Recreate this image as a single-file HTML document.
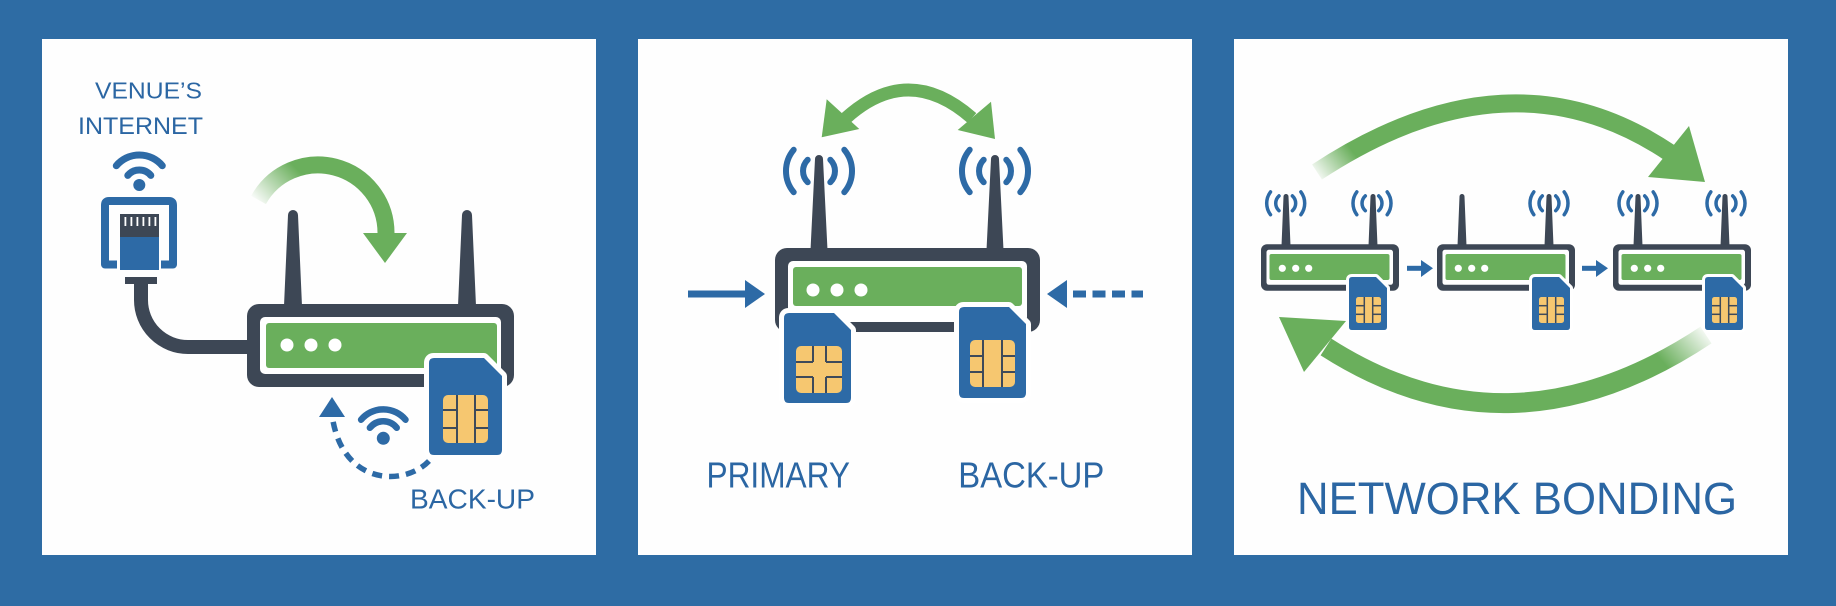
<!DOCTYPE html>
<html>
<head>
<meta charset="utf-8">
<style>
  html,body{margin:0;padding:0;background:#2e6ca4;}
  svg{display:block;}
  text{font-family:"Liberation Sans",Arial,sans-serif;fill:#2b66a3;}
</style>
</head>
<body>
<svg width="1836" height="606" viewBox="0 0 1836 606" xmlns="http://www.w3.org/2000/svg">
  <defs>
    <linearGradient id="g1" gradientUnits="userSpaceOnUse" x1="258" y1="205" x2="296" y2="168">
      <stop offset="0" stop-color="#6aaf5c" stop-opacity="0"/>
      <stop offset="1" stop-color="#6aaf5c" stop-opacity="1"/>
    </linearGradient>
    <linearGradient id="g3t" gradientUnits="userSpaceOnUse" x1="1314" y1="176" x2="1350" y2="148">
      <stop offset="0" stop-color="#6aaf5c" stop-opacity="0"/>
      <stop offset="1" stop-color="#6aaf5c" stop-opacity="1"/>
    </linearGradient>
    <linearGradient id="g3b" gradientUnits="userSpaceOnUse" x1="1710" y1="332" x2="1668" y2="368">
      <stop offset="0" stop-color="#6aaf5c" stop-opacity="0"/>
      <stop offset="1" stop-color="#6aaf5c" stop-opacity="1"/>
    </linearGradient>
    <!-- small waves for panel 3 -->
    <g id="w3" fill="none" stroke="#2d6aa6" stroke-width="3.5" stroke-linecap="round">
      <path d="M-6.7 195.9 A10 10 0 0 0 -6.7 210.7"/>
      <path d="M6.7 195.9 A10 10 0 0 1 6.7 210.7"/>
      <path d="M-15.2 191.9 A19 19 0 0 0 -15.2 214.7"/>
      <path d="M15.2 191.9 A19 19 0 0 1 15.2 214.7"/>
    </g>
    <!-- small router for panel 3 -->
    <g id="r3">
      <path d="M20.5 246 L22.5 196.5 A2.5 2.5 0 0 1 27.5 196.5 L29.5 246 Z" fill="#3d4755"/>
      <path d="M107.5 246 L109.5 196.5 A2.5 2.5 0 0 1 114.5 196.5 L116.5 246 Z" fill="#3d4755"/>
      <rect x="0" y="244.3" width="138" height="46.4" rx="6" fill="#3d4755"/>
      <rect x="5.5" y="249.8" width="126.5" height="35" rx="2.5" fill="#ffffff"/>
      <rect x="8.5" y="254" width="120" height="26" rx="2" fill="#6aaf5c"/>
      <circle cx="21.3" cy="268.3" r="3.6" fill="#fff"/>
      <circle cx="34.7" cy="268.3" r="3.6" fill="#fff"/>
      <circle cx="47.7" cy="268.3" r="3.6" fill="#fff"/>
    </g>
    <!-- small SIM for panel 3 -->
    <g id="s3">
      <path d="M0 280 Q0 277 3 277 H27 L38 288 V327 Q38 330 35 330 H3 Q0 330 0 327 Z" fill="#2d6aa6" stroke="#ffffff" stroke-width="6" paint-order="stroke" stroke-linejoin="round"/>
      <rect x="7" y="297" width="25" height="26" rx="2.5" fill="#f6c770"/>
      <g stroke="#3e4a5a" stroke-width="1.5">
        <line x1="15.3" y1="297" x2="15.3" y2="323"/>
        <line x1="23.7" y1="297" x2="23.7" y2="323"/>
        <line x1="7" y1="305.7" x2="15.3" y2="305.7"/>
        <line x1="7" y1="314.3" x2="15.3" y2="314.3"/>
        <line x1="23.7" y1="305.7" x2="32" y2="305.7"/>
        <line x1="23.7" y1="314.3" x2="32" y2="314.3"/>
      </g>
    </g>
  </defs>

  <rect x="0" y="0" width="1836" height="606" fill="#2e6ca4"/>
  <rect x="42" y="39" width="554" height="516" fill="#fefefe"/>
  <rect x="638" y="39" width="554" height="516" fill="#fefefe"/>
  <rect x="1234" y="39" width="554" height="516" fill="#fefefe"/>

  <!-- ================= PANEL 1 ================= -->
  <text x="95" y="98.5" font-size="23.5" textLength="107" lengthAdjust="spacingAndGlyphs">VENUE’S</text>
  <text x="78" y="134" font-size="24" textLength="125" lengthAdjust="spacingAndGlyphs">INTERNET</text>

  <!-- wifi icon 1 -->
  <g fill="none" stroke="#2d6aa6" stroke-width="7" stroke-linecap="round">
    <path d="M127.8 175.4 A15 15 0 0 1 150.8 175.4"/>
    <path d="M116.3 165.7 A30 30 0 0 1 162.3 165.7"/>
  </g>
  <circle cx="139.3" cy="185" r="6" fill="#2d6aa6"/>

  <!-- cable -->
  <path d="M141 282 V300 A47 47 0 0 0 188 347 H250" fill="none" stroke="#3d4755" stroke-width="14"/>
  <rect x="125" y="277" width="32" height="7" fill="#3d4755"/>

  <!-- RJ45 -->
  <path d="M117 264.5 H105 V205 Q105 201 109 201 H169 Q173 201 173 205 V264.5 H161" fill="none" stroke="#2d6aa6" stroke-width="8" stroke-linejoin="round"/>
  <rect x="120" y="214" width="39" height="23" fill="#3d4755"/>
  <g fill="#ffffff">
    <rect x="124.5" y="217" width="1.8" height="9"/>
    <rect x="130.5" y="217" width="1.8" height="9"/>
    <rect x="136.5" y="217" width="1.8" height="9"/>
    <rect x="142.5" y="217" width="1.8" height="9"/>
    <rect x="148.5" y="217" width="1.8" height="9"/>
    <rect x="154.5" y="217" width="1.8" height="9"/>
  </g>
  <rect x="120" y="237" width="39" height="33" fill="#2d6aa6"/>

  <!-- antennas -->
  <path d="M284 306 L288 215 A5 5 0 0 1 298 215 L302 306 Z" fill="#3d4755"/>
  <path d="M458 306 L462 215 A5 5 0 0 1 472 215 L476 306 Z" fill="#3d4755"/>

  <!-- router -->
  <rect x="247" y="304" width="267" height="83" rx="12" fill="#3d4755"/>
  <rect x="260" y="317" width="241" height="57" rx="5" fill="#ffffff"/>
  <rect x="266" y="323" width="231" height="45" rx="3" fill="#6aaf5c"/>
  <circle cx="287" cy="345" r="6.5" fill="#fff"/>
  <circle cx="311" cy="345" r="6.5" fill="#fff"/>
  <circle cx="335" cy="345" r="6.5" fill="#fff"/>

  <!-- SIM -->
  <path d="M429 363 Q429 358 434 358 H484 L502 376 V450 Q502 455 497 455 H434 Q429 455 429 450 Z" fill="#2d6aa6" stroke="#ffffff" stroke-width="10" paint-order="stroke" stroke-linejoin="round"/>
  <rect x="443" y="395" width="45" height="48" rx="5" fill="#f6c770"/>
  <g stroke="#3e4a5a" stroke-width="2">
    <line x1="457" y1="395" x2="457" y2="443"/>
    <line x1="475" y1="395" x2="475" y2="443"/>
    <line x1="443" y1="410" x2="457" y2="410"/>
    <line x1="443" y1="428" x2="457" y2="428"/>
    <line x1="475" y1="410" x2="488" y2="410"/>
    <line x1="475" y1="428" x2="488" y2="428"/>
  </g>

  <!-- green arc -->
  <path d="M258.5 200 A68 68 0 0 1 386 233 L386 236" fill="none" stroke="url(#g1)" stroke-width="17"/>
  <polygon points="363,233 407,233 385,263" fill="#6aaf5c"/>

  <!-- wifi icon 2 -->
  <g fill="none" stroke="#2d6aa6" stroke-width="6.5" stroke-linecap="round">
    <path d="M369.9 427.8 A17 17 0 0 1 396.7 427.8"/>
    <path d="M361.1 419.7 A29 29 0 0 1 405.5 419.7"/>
  </g>
  <circle cx="383.3" cy="438.3" r="6.5" fill="#2d6aa6"/>

  <!-- dashed blue arrow -->
  <path d="M429 461 C405 486, 345 486, 333 421" fill="none" stroke="#2d6aa6" stroke-width="5.5" stroke-dasharray="10 7"/>
  <polygon points="319,417 345,417 332,397" fill="#2d6aa6"/>

  <text x="410" y="508.5" font-size="27.5" textLength="125" lengthAdjust="spacingAndGlyphs">BACK-UP</text>

  <!-- ================= PANEL 2 ================= -->
  <!-- side arrows -->
  <line x1="688" y1="294" x2="748" y2="294" stroke="#2d6aa6" stroke-width="7"/>
  <polygon points="745,280 765,294 745,308" fill="#2d6aa6"/>
  <polygon points="1067,280 1047,294 1067,308" fill="#2d6aa6"/>
  <line x1="1073" y1="294" x2="1143" y2="294" stroke="#2d6aa6" stroke-width="7" stroke-dasharray="13 6.5"/>

  <!-- antennas -->
  <path d="M810.5 250 L815 159 A4 4 0 0 1 823 159 L827.5 250 Z" fill="#3d4755"/>
  <path d="M986.5 250 L991 159 A4 4 0 0 1 999 159 L1003.5 250 Z" fill="#3d4755"/>
  <g fill="none" stroke="#2d6aa6" stroke-width="6" stroke-linecap="round">
    <path d="M807.7 159.7 A16 16 0 0 0 807.7 182.3"/>
    <path d="M830.3 159.7 A16 16 0 0 1 830.3 182.3"/>
    <path d="M793.7 149.8 A33 33 0 0 0 793.7 192.2"/>
    <path d="M844.3 149.8 A33 33 0 0 1 844.3 192.2"/>
    <path d="M983.7 159.7 A16 16 0 0 0 983.7 182.3"/>
    <path d="M1006.3 159.7 A16 16 0 0 1 1006.3 182.3"/>
    <path d="M969.7 149.8 A33 33 0 0 0 969.7 192.2"/>
    <path d="M1020.3 149.8 A33 33 0 0 1 1020.3 192.2"/>
  </g>

  <!-- router -->
  <rect x="775" y="248" width="265" height="84" rx="12" fill="#3d4755"/>
  <rect x="788" y="261" width="239" height="61" rx="5" fill="#ffffff"/>
  <rect x="793" y="267" width="229" height="39" rx="3" fill="#6aaf5c"/>
  <circle cx="813" cy="290" r="6.5" fill="#fff"/>
  <circle cx="837" cy="290" r="6.5" fill="#fff"/>
  <circle cx="861" cy="290" r="6.5" fill="#fff"/>

  <!-- left SIM -->
  <path d="M784 318 Q784 313 789 313 H834 L851 330 V398 Q851 403 846 403 H789 Q784 403 784 398 Z" fill="#2d6aa6" stroke="#ffffff" stroke-width="10" paint-order="stroke" stroke-linejoin="round"/>
  <rect x="796" y="346" width="46" height="47" rx="5" fill="#f6c770"/>
  <g stroke="#3e4a5a" stroke-width="2">
    <line x1="813" y1="346" x2="813" y2="362"/>
    <line x1="826" y1="346" x2="826" y2="362"/>
    <line x1="813" y1="377" x2="813" y2="393"/>
    <line x1="826" y1="377" x2="826" y2="393"/>
    <line x1="796" y1="362" x2="813" y2="362"/>
    <line x1="796" y1="377" x2="813" y2="377"/>
    <line x1="826" y1="362" x2="842" y2="362"/>
    <line x1="826" y1="377" x2="842" y2="377"/>
  </g>

  <!-- right SIM -->
  <path d="M959 312 Q959 307 964 307 H1009 L1026 324 V393 Q1026 398 1021 398 H964 Q959 398 959 393 Z" fill="#2d6aa6" stroke="#ffffff" stroke-width="10" paint-order="stroke" stroke-linejoin="round"/>
  <rect x="970" y="340" width="45" height="47" rx="5" fill="#f6c770"/>
  <g stroke="#3e4a5a" stroke-width="2">
    <line x1="983" y1="340" x2="983" y2="387"/>
    <line x1="1002" y1="340" x2="1002" y2="387"/>
    <line x1="970" y1="356" x2="983" y2="356"/>
    <line x1="970" y1="372" x2="983" y2="372"/>
    <line x1="1002" y1="356" x2="1015" y2="356"/>
    <line x1="1002" y1="372" x2="1015" y2="372"/>
  </g>

  <!-- double green arrow -->
  <path d="M846 118 Q908 62 972 118" fill="none" stroke="#6aaf5c" stroke-width="13"/>
  <polygon points="826.7,99.3 821.7,137.3 859.3,129" fill="#6aaf5c"/>
  <polygon points="991,101.7 995,139 957.7,130" fill="#6aaf5c"/>

  <text x="706.5" y="487.3" font-size="36.5" textLength="143.5" lengthAdjust="spacingAndGlyphs">PRIMARY</text>
  <text x="958.3" y="487.3" font-size="36.5" textLength="146" lengthAdjust="spacingAndGlyphs">BACK-UP</text>

  <!-- ================= PANEL 3 ================= -->
  <!-- top arc -->
  <path d="M1317 172 Q1510 45 1670 153" fill="none" stroke="url(#g3t)" stroke-width="18"/>
  <polygon points="1689,126 1705,182 1648,177" fill="#6aaf5c"/>
  <!-- bottom arc -->
  <path d="M1706 335 Q1510 465 1326 347" fill="none" stroke="url(#g3b)" stroke-width="20"/>
  <polygon points="1279,317 1346,321 1304,372" fill="#6aaf5c"/>

  <!-- routers -->
  <use href="#r3" x="1261"/>
  <use href="#r3" x="1437"/>
  <use href="#r3" x="1613"/>

  <!-- waves -->
  <use href="#w3" x="1285.7"/>
  <use href="#w3" x="1372"/>
  <use href="#w3" x="1549"/>
  <use href="#w3" x="1638"/>
  <use href="#w3" x="1726"/>

  <!-- SIMs -->
  <use href="#s3" x="1349"/>
  <use href="#s3" x="1532"/>
  <use href="#s3" x="1705"/>

  <!-- small arrows -->
  <line x1="1407" y1="268.3" x2="1423" y2="268.3" stroke="#2d6aa6" stroke-width="5"/>
  <polygon points="1421,260 1433,268.3 1421,277" fill="#2d6aa6"/>
  <line x1="1582" y1="268.3" x2="1598" y2="268.3" stroke="#2d6aa6" stroke-width="5"/>
  <polygon points="1596,260 1608,268.3 1596,277" fill="#2d6aa6"/>

  <text x="1297" y="514" font-size="45.5" textLength="440" lengthAdjust="spacingAndGlyphs">NETWORK BONDING</text>
</svg>
</body>
</html>
